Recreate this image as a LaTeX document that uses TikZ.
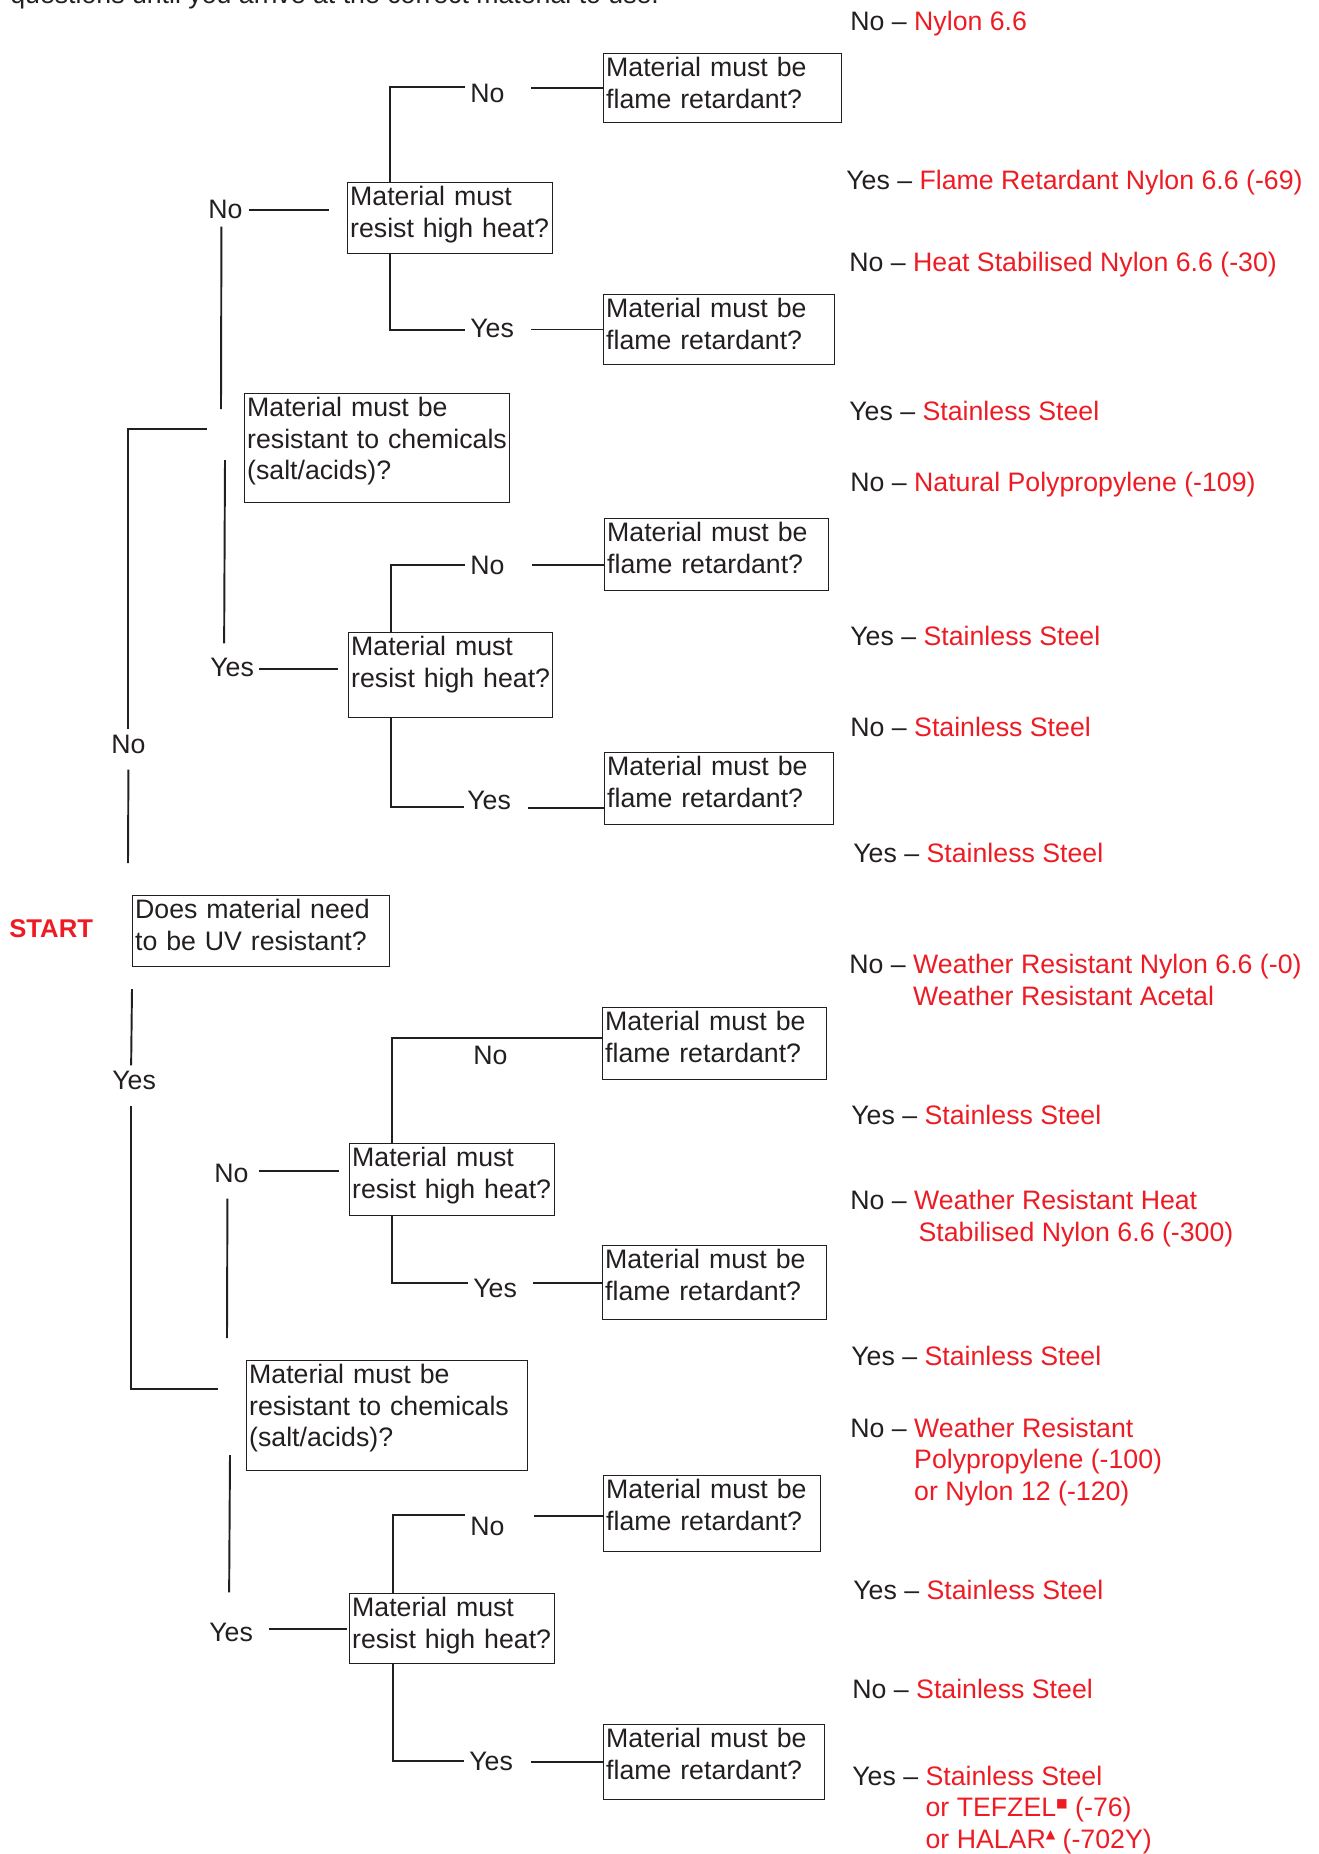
\documentclass[tikz,border=0pt]{standalone}
\usepackage{fontspec}
\setmainfont{Liberation Sans}
\newfontfamily\markfont{DejaVu Sans}
\usepackage{xcolor}
\usetikzlibrary{calc}
\definecolor{ansred}{RGB}{237,28,36}
\definecolor{ink}{RGB}{35,31,32}

\begin{document}
\begin{tikzpicture}[x=0.02cm, y=-0.02cm,
		font=\fontsize{15.2}{18}\selectfont, text=ink,
		qbox/.style={draw=ink, line width=0.6pt, anchor=north west, align=left,
			inner xsep=1.5pt, inner ysep=0pt, text height=0.46cm},
		lbl/.style={anchor=west, inner sep=0pt},
		ans/.style={anchor=base west, inner sep=0pt},
		link/.style={draw=ink, line width=1.1pt}]
	\useasboundingbox (0,0) rectangle (1319,1854);
	
	% texto cortado arriba
	\node[ans] (intro) at (10,3) {questions until you arrive at the correct material to use.};
	\node[ans, text=ansred, font=\fontsize{14.6}{18}\selectfont\bfseries] (start) at (9,937.5) {START};
	
	% preguntas
	\node[qbox, text width=5.04cm, text depth=0.96cm] (uv) at (132,895) {Does material need\\to be UV resistant?};
	\node[qbox, text width=5.20cm, text depth=1.72cm] (chemA) at (244,393) {Material must be\\resistant to chemicals\\(salt/acids)?};
	\node[qbox, text width=5.52cm, text depth=1.74cm] (chemB) at (246,1360) {Material must be\\resistant to chemicals\\(salt/acids)?};
	\node[qbox, text width=4.00cm, text depth=0.96cm] (heatA) at (347,182) {Material must\\resist high heat?};
	\node[qbox, text width=3.98cm, text depth=1.24cm] (heatB) at (348,632) {Material must\\resist high heat?};
	\node[qbox, text width=4.00cm, text depth=0.98cm] (heatC) at (349,1143) {Material must\\resist high heat?};
	\node[qbox, text width=4.00cm, text depth=0.94cm] (heatD) at (349,1593) {Material must\\resist high heat?};
	\node[qbox, text width=4.66cm, text depth=0.92cm] (flameA1) at (603,53) {Material must be\\flame retardant?};
	\node[qbox, text width=4.52cm, text depth=0.94cm] (flameA2) at (603,294) {Material must be\\flame retardant?};
	\node[qbox, text width=4.38cm, text depth=0.98cm] (flameB1) at (604,518) {Material must be\\flame retardant?};
	\node[qbox, text width=4.48cm, text depth=0.98cm] (flameB2) at (604,752) {Material must be\\flame retardant?};
	\node[qbox, text width=4.38cm, text depth=0.98cm] (flameC1) at (602,1007) {Material must be\\flame retardant?};
	\node[qbox, text width=4.38cm, text depth=1.02cm] (flameC2) at (602,1245) {Material must be\\flame retardant?};
	\node[qbox, text width=4.24cm, text depth=1.06cm] (flameD1) at (603,1475) {Material must be\\flame retardant?};
	\node[qbox, text width=4.32cm, text depth=1.04cm] (flameD2) at (603,1724) {Material must be\\flame retardant?};
	
	% si / no
	\node[lbl] (nS) at (111,744) {No};
	\node[lbl] (nA) at (208,209) {No};
	\node[lbl] (yA) at (210,667) {Yes};
	\node[lbl] (yS) at (112,1080) {Yes};
	\node[lbl] (nC) at (214,1173) {No};
	\node[lbl] (yC) at (209,1632) {Yes};
	\node[lbl] (lAn) at (470,93) {No};
	\node[lbl] (lAy) at (470,328) {Yes};
	\node[lbl] (lBn) at (470,565) {No};
	\node[lbl] (lBy) at (467,800) {Yes};
	\node[lbl] (lCn) at (473,1055) {No};
	\node[lbl] (lCy) at (473,1288) {Yes};
	\node[lbl] (lDn) at (470,1526) {No};
	\node[lbl] (lDy) at (469,1761) {Yes};
	
	% lineas izquierda
	\draw[link] ($(uv.north west)+(-4,-32)$) -- ($(nS.south)+(0,16)$);
	\draw[link] ($(nS.north)+(0,-5)$) |- ($(chemA.north west)+(-37,36)$);
	\draw[link] ($(chemA.north west)+(-23,16)$) -- ($(nA.south)+(-4,8)$);
	\draw[link] ($(nA.east)+(6,1)$) -- ++(80,0);
	\draw[link] ($(chemA.south west)+(-19,-43)$) -- ($(yA.north)+(-8,-14)$);
	\draw[link] ($(yA.east)+(5,2)$) -- ++(79,0);
	\draw[link] ($(uv.south west)+(0,22)$) -- ($(yS.north)+(-3,-5)$);
	\draw[link] ($(yS.south)+(-3,16)$) |- ($(chemB.north west)+(-28,29)$);
	\draw[link] ($(chemB.north west)+(-19,-22)$) -- ($(nC.south)+(-4,16)$);
	\draw[link] ($(nC.east)+(10,-2)$) -- ++(80,0);
	\draw[link] ($(chemB.south west)+(-16,-16)$) -- ($(yC.north)+(-2,-30)$);
	\draw[link] ($(yC.east)+(16,-3)$) -- ++(78,0);
	
	% ramas de calor
	\draw[link] ($(heatA.north west)+(43,0)$) |- ($(lAn.west)+(-5,-6)$);
	\draw[link] (flameA1.west) -- ++(-72,0);
	\draw[link] ($(heatA.south west)+(43,0)$) |- ($(lAy.west)+(-5,2)$);
	\draw[link] (flameA2.west) -- ++(-72,0);
	\draw[link] ($(heatB.north west)+(43,0)$) |- ($(lBn.west)+(-5,0)$);
	\draw[link] (flameB1.west |- lBn.west) -- ++(-72,0);
	\draw[link] ($(heatB.south west)+(43,0)$) |- ($(lBy.west)+(-3,7)$);
	\draw[link] ($(flameB2.west)+(0,19)$) -- ++(-76,0);
	\draw[link] ($(heatC.north west)+(43,0)$) |- ($(flameC1.west)+(0,-6)$);
	\draw[link] ($(heatC.south west)+(43,0)$) |- ($(lCy.west)+(-5,-5)$);
	\draw[link] (flameC2.west) -- ++(-69,0);
	\draw[link] ($(heatD.north west)+(44,0)$) |- ($(lDn.west)+(-5,-11)$);
	\draw[link] ($(flameD1.west)+(0,2)$) -- ++(-69,0);
	\draw[link] ($(heatD.south west)+(44,0)$) |- ($(lDy.west)+(-5,0)$);
	\draw[link] (flameD2.west) -- ++(-72,0);
	
	% respuestas
	\node[ans] (r1) at (850,30) {No – \textcolor{ansred}{Nylon 6.6}};
	\node[ans] (r2) at (846,189.5) {Yes – \textcolor{ansred}{Flame Retardant Nylon 6.6 (-69)}};
	\node[ans] (r3) at (849,271.5) {No – \textcolor{ansred}{Heat Stabilised Nylon 6.6 (-30)}};
	\node[ans] (r4) at (849,420.5) {Yes – \textcolor{ansred}{Stainless Steel}};
	\node[ans] (r5) at (850,491.5) {No – \textcolor{ansred}{Natural Polypropylene (-109)}};
	\node[ans] (r6) at (850,645.5) {Yes – \textcolor{ansred}{Stainless Steel}};
	\node[ans] (r7) at (850,736.5) {No – \textcolor{ansred}{Stainless Steel}};
	\node[ans] (r8) at (853,862.5) {Yes – \textcolor{ansred}{Stainless Steel}};
	\node[ans] (r9) at (849,973.5) {No – \textcolor{ansred}{\begin{tabular}[t]{@{}l@{}}Weather Resistant Nylon 6.6 (-0)\\Weather Resistant Acetal\end{tabular}}};
	\node[ans] (r10) at (851,1124.5) {Yes – \textcolor{ansred}{Stainless Steel}};
	\node[ans] (r11) at (850,1209.5) {No – \textcolor{ansred}{\begin{tabular}[t]{@{}l@{}}Weather Resistant Heat\\\,Stabilised Nylon 6.6 (-300)\end{tabular}}};
	\node[ans] (r12) at (851,1365.5) {Yes – \textcolor{ansred}{Stainless Steel}};
	\node[ans] (r13) at (850,1437) {No – \textcolor{ansred}{\begin{tabular}[t]{@{}l@{}}Weather Resistant\\Polypropylene (-100)\\or Nylon 12 (-120)\end{tabular}}};
	\node[ans] (r14) at (853,1599.5) {Yes – \textcolor{ansred}{Stainless Steel}};
	\node[ans] (r15) at (852,1698.5) {No – \textcolor{ansred}{Stainless Steel}};
	\node[ans] (r16) at (852,1785) {Yes – \textcolor{ansred}{\begin{tabular}[t]{@{}l@{}}Stainless Steel\\or TEFZEL\raisebox{0.36em}{\fontsize{7}{7}\markfont ■} (-76)\\or HALAR\raisebox{0.36em}{\fontsize{7}{7}\markfont ▲} (-702Y)\end{tabular}}};
\end{tikzpicture}
\end{document}
